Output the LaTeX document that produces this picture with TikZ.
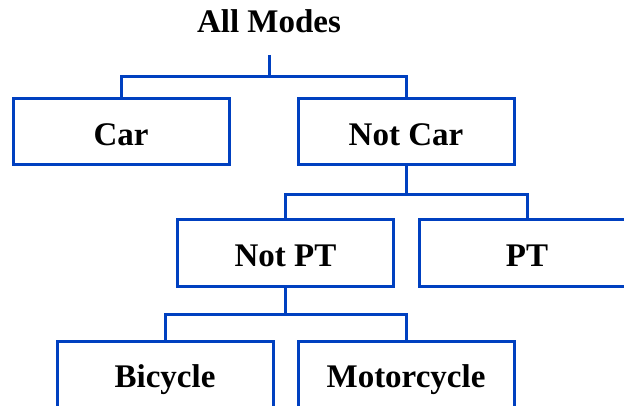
\documentclass[tikz,border=0pt]{standalone}
\usepackage{fontspec}
\setmainfont{Liberation Serif}
\definecolor{lineblue}{RGB}{0,64,192}
\begin{document}
\begin{tikzpicture}[x=1pt,y=-1pt,
  modebox/.style={draw=lineblue, line width=3pt, minimum width=216pt, minimum height=66pt,
    inner sep=0pt, text height=30pt, text depth=2.6pt,
    font=\fontsize{33}{40}\selectfont\bfseries},
  link/.style={draw=lineblue, line width=3pt},
  titletext/.style={inner sep=0pt, anchor=base, font=\fontsize{33}{40}\selectfont\bfseries}]
\useasboundingbox (0,0) rectangle (624,406);
\node[titletext] (all) at (269,33) {All Modes};
\node[modebox] (car) at (121,132) {Car};
\node[modebox] (notcar) at (406,132) {Not Car};
\node[modebox] (notpt) at (285.5,253) {Not PT};
\node[modebox] (pt) at (527,253) {PT};
\node[modebox] (bicycle) at (165,374) {Bicycle};
\node[modebox] (moto) at (406,374) {Motorcycle};
\coordinate (top) at (269,55);
\coordinate (j1) at (269,77);
\draw[link] (top) -- (j1);
\draw[link] (j1) -| (car.north);
\draw[link] (j1) -| (notcar.north);
\draw[link] (notcar.south) -- ++(0,28) coordinate (j2);
\draw[link] (j2) -| (notpt.north);
\draw[link] (j2) -| (pt.north);
\draw[link] (notpt.south) -- ++(0,27) coordinate (j3);
\draw[link] (j3) -| (bicycle.north);
\draw[link] (j3) -| (moto.north);
\end{tikzpicture}
\end{document}
